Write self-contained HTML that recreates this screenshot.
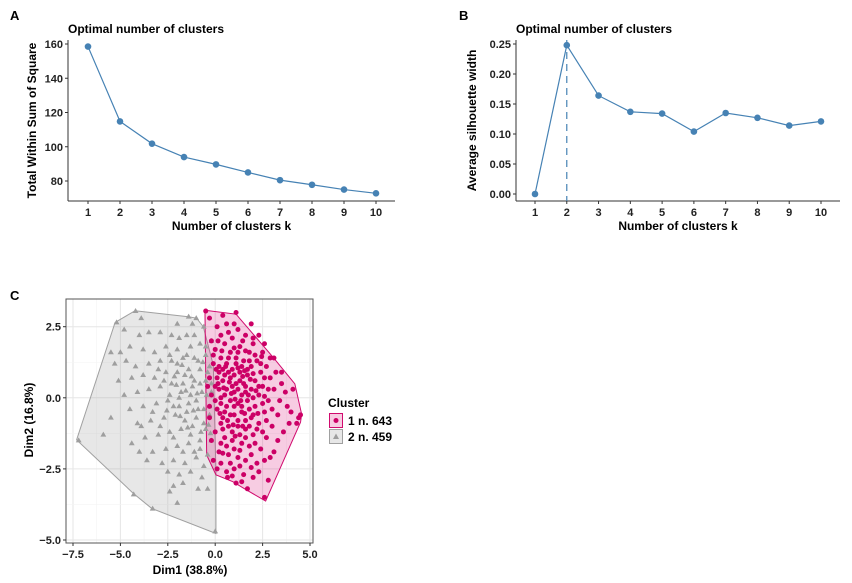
<!DOCTYPE html>
<html><head><meta charset="utf-8"><style>
body{margin:0;background:#fff}
svg{display:block;font-family:"Liberation Sans",Arial,sans-serif}
.tk{font-size:11px;font-weight:bold;fill:#222}
.ttl{font-size:12px;font-weight:bold;fill:#000}
.lab{font-size:12px;font-weight:bold;fill:#000}
</style></head><body>
<svg id="s" width="852" height="583" viewBox="0 0 852 583"></svg>
<script>
const ks=[1,2,3,4,5,6,7,8,9,10];
const wss=[158.5,114.8,101.8,94,89.7,85,80.5,77.8,75,72.8];
const wssTicks=[80,100,120,140,160];
const sil=[0,0.248,0.164,0.137,0.134,0.104,0.135,0.127,0.114,0.121];
const silTicks=[0,0.05,0.10,0.15,0.20,0.25];
const silTickLabels=["0.00","0.05","0.10","0.15","0.20","0.25"];
const optimalK=2;
const dimTicksX=[-7.5,-5,-2.5,0,2.5,5];
const dimTicksXLabels=["−7.5","−5.0","−2.5","0.0","2.5","5.0"];
const dimTicksY=[-5,-2.5,0,2.5];
const dimTicksYLabels=["−5.0","−2.5","0.0","2.5"];
const hull1=[[-0.54,3.08],[1.1,2.94],[3.1,1.39],[4.2,0.49],[4.56,-0.58],[4.5,-0.86],[2.66,-3.63],[1.65,-3.24],[0.93,-2.95],[0.04,-2.71],[-0.45,-2.01]];
const hull2=[[-4.23,3.06],[-1.42,2.85],[-0.98,2.8],[-0.63,2.5],[-0.1,1.15],[0.04,-2.6],[0.04,-4.77],[-3.35,-3.89],[-4.32,-3.36],[-7.31,-1.48],[-5.28,2.65]];
const pts1=[[-0.3,2.8],[0.1,2.5],[0.6,2.6],[1.2,2.4],[0.3,2.2],[0.9,2.1],[1.6,2.2],[2.0,1.9],[-0.2,2.0],[0.5,1.9],[1.3,1.8],[2.5,1.6],[2.9,1.4],[0.0,1.7],[0.8,1.6],[1.8,1.6],[2.2,1.3],[0.3,1.4],[1.1,1.4],[1.5,1.3],[2.7,1.1],[3.2,0.9],[-0.1,1.2],[0.6,1.2],[0.9,1.0],[1.9,1.1],[2.4,0.9],[0.2,0.9],[1.3,0.9],[1.7,0.8],[2.1,0.6],[2.9,0.7],[3.5,0.5],[-0.3,0.7],[0.4,0.6],[0.8,0.7],[1.1,0.5],[1.5,0.5],[2.5,0.4],[3.1,0.3],[0.0,0.4],[0.6,0.3],[1.0,0.2],[1.4,0.1],[1.9,0.3],[2.3,0.1],[2.8,-0.1],[3.8,-0.3],[-0.2,0.1],[0.3,0.0],[0.8,-0.1],[1.2,-0.2],[1.7,-0.1],[2.1,-0.3],[2.6,-0.5],[3.3,-0.6],[4.0,-0.5],[4.3,-0.9],[0.1,-0.4],[0.5,-0.5],[1.0,-0.6],[1.4,-0.5],[1.9,-0.7],[2.3,-0.9],[3.0,-1.0],[3.6,-1.2],[-0.3,-0.7],[0.3,-0.9],[0.7,-1.0],[1.2,-1.0],[1.6,-1.1],[2.0,-1.3],[2.7,-1.4],[0.0,-1.2],[0.5,-1.4],[0.9,-1.5],[1.4,-1.6],[1.8,-1.7],[2.4,-1.8],[3.1,-1.9],[0.2,-1.9],[0.7,-2.0],[1.2,-2.1],[1.6,-2.2],[2.2,-2.3],[2.9,-2.1],[0.1,-2.5],[0.6,-2.6],[1.0,-2.5],[1.5,-2.7],[2.3,-2.6],[2.8,-2.9],[1.1,-3.0],[1.7,-3.2],[2.6,-3.5],[0.4,1.0],[0.7,0.9],[1.0,0.8],[1.3,0.6],[1.6,0.4],[0.2,0.3],[0.5,0.1],[0.9,0.4],[1.2,0.3],[1.6,0.2],[2.0,0.0],[0.3,-0.2],[0.6,-0.3],[1.0,-0.3],[1.4,-0.3],[1.8,-0.4],[0.0,-0.1],[0.4,-0.7],[0.8,-0.6],[1.2,-0.8],[1.6,-0.8],[2.0,-0.6],[0.1,0.7],[0.5,0.8],[1.4,1.1],[1.8,1.3],[1.1,1.2],[0.7,1.4],[2.1,1.5],[0.2,1.1],[0.9,-1.2],[1.3,-1.3],[0.4,-1.1],[1.8,-1.0],[2.2,-1.1],[0.6,-1.7],[1.0,-1.8],[0.3,-1.6],[1.6,-1.4],[2.5,-1.2],[2.6,0.7],[2.3,0.4],[2.8,0.3],[3.4,-0.1],[3.0,-0.4],[2.5,-0.2],[3.7,0.2],[4.1,0.3],[4.4,-0.7],[3.9,-0.9],[2.0,2.1],[1.0,2.6],[0.4,2.9],[1.9,2.6],[2.3,2.2],[-0.1,1.5],[-0.2,-1.5],[-0.1,-2.2],[0.3,-2.3],[0.8,-2.3],[1.3,-2.4],[1.9,-2.0],[2.0,-2.8],[-0.4,0.4],[-0.3,-0.3],[0.05,1.0],[1.7,1.0],[2.4,1.2],[1.2,1.6],[1.45,0.75],[0.75,0.55],[1.05,-0.05],[1.35,-0.1],[0.45,0.35],[1.85,0.65],[2.25,-0.55],[0.95,-0.95],[1.55,-0.55],[0.25,-0.55],[1.1,3.0],[-0.5,3.05],[3.1,1.4],[4.5,-0.6],[0.65,-2.8],[0.15,2.0],[0.7,2.3],[1.45,2.0],[2.6,1.9],[0.35,1.65],[1.0,1.75],[1.6,1.65],[2.45,1.45],[0.55,1.1],[1.2,1.05],[1.55,0.95],[2.0,0.85],[0.15,0.5],[0.85,0.15],[1.75,0.1],[2.15,0.25],[2.6,0.05],[0.65,-0.8],[1.05,-1.35],[1.45,-1.0],[2.1,-1.6],[2.6,-2.2],[0.4,-1.95],[1.3,-1.85],[1.9,-2.45],[0.9,-2.75],[1.4,-2.95],[3.3,-1.5],[2.7,-0.8],[3.5,0.9]];
const pts2=[[-4.2,3.05],[-5.2,2.65],[-7.2,-1.5],[-4.3,-3.4],[-3.3,-3.9],[0.0,-4.7],[-1.4,2.85],[-1.0,2.8],[-0.6,2.5],[-5.0,1.6],[-5.5,1.6],[-4.8,2.4],[-4.0,2.2],[-3.5,2.3],[-2.9,2.3],[-2.3,2.2],[-1.9,2.1],[-1.5,2.2],[-4.5,1.8],[-3.8,1.7],[-3.2,1.6],[-2.6,1.8],[-2.0,1.7],[-1.3,1.8],[-0.8,1.9],[-5.3,1.2],[-4.2,1.1],[-3.5,1.2],[-2.9,1.3],[-2.3,1.3],[-1.7,1.4],[-1.1,1.4],[-0.5,1.5],[-5.1,0.6],[-4.4,0.7],[-3.8,0.8],[-3.2,0.7],[-2.6,0.9],[-2.0,0.9],[-1.4,1.0],[-0.8,1.0],[-0.3,1.1],[-4.8,0.1],[-4.1,0.2],[-3.5,0.3],[-2.9,0.4],[-2.3,0.5],[-1.7,0.5],[-1.1,0.6],[-0.5,0.6],[-4.5,-0.4],[-3.8,-0.3],[-3.1,-0.2],[-2.5,-0.1],[-1.9,0.0],[-1.3,0.1],[-0.7,0.2],[-0.2,0.2],[-5.5,-0.7],[-4.1,-0.9],[-3.4,-0.8],[-2.7,-0.7],[-2.1,-0.6],[-1.5,-0.5],[-0.9,-0.4],[-0.3,-0.3],[-5.9,-1.3],[-3.7,-1.4],[-3.0,-1.3],[-2.4,-1.2],[-1.8,-1.1],[-1.2,-1.0],[-0.6,-0.9],[-4.0,-1.9],[-3.3,-1.9],[-2.6,-1.8],[-2.0,-1.7],[-1.4,-1.6],[-0.8,-1.5],[-0.2,-1.5],[-2.8,-2.3],[-2.2,-2.2],[-1.6,-2.3],[-1.0,-2.1],[-0.4,-2.0],[-2.5,-2.6],[-1.9,-2.7],[-1.3,-2.6],[-0.7,-2.8],[-2.2,-3.1],[-1.7,-3.0],[-0.9,-3.2],[-0.4,-3.2],[-2.0,-3.7],[-2.4,-3.3],[-2.0,1.2],[-1.6,0.8],[-1.2,0.4],[-0.8,0.5],[-0.4,0.9],[-1.8,0.2],[-1.4,-0.2],[-1.0,-0.1],[-0.6,-0.4],[-2.2,-0.3],[-1.6,-0.8],[-1.0,-0.7],[-0.5,-1.1],[-2.4,0.1],[-2.7,0.6],[-1.9,-0.3],[-1.3,-1.3],[-0.8,-1.8],[-0.3,-0.6],[-0.2,0.5],[-0.9,1.3],[-1.5,1.5],[-0.5,1.8],[-0.2,2.0],[-1.1,2.2],[-2.4,1.5],[-3.0,1.0],[-3.3,-0.5],[-2.9,-1.0],[-2.2,-1.4],[-1.7,-1.9],[-1.1,-1.9],[-0.6,-2.4],[-3.6,-2.2],[-3.9,-1.0],[-4.4,-1.6],[-4.7,1.3],[-3.9,2.8],[-2.0,2.6],[-1.2,2.6],[-1.75,1.15],[-1.25,0.75],[-0.65,1.25],[-1.55,0.25],[-0.95,0.15],[-2.05,0.45],[-1.15,-0.45],[-0.35,-0.95],[-1.85,-0.65],[-0.75,-1.2],[-2.55,-0.45],[-1.45,-1.05],[-0.25,-1.25],[-2.15,0.75],[-0.45,0.1]];

const NS="http://www.w3.org/2000/svg",S=document.getElementById('s');
function mk(t,a,p){const e=document.createElementNS(NS,t);for(const k in a)e.setAttribute(k,a[k]);(p||S).appendChild(e);return e;}
function tx(x,y,s,cls,anchor,rot){const e=mk('text',{x:x,y:y,class:cls,'text-anchor':anchor||'middle'});if(rot)e.setAttribute('transform',`rotate(-90 ${x} ${y})`);e.textContent=s;return e;}

function elbow(o){
  const g=mk('g',{});
  
  
  const X=k=>o.x1+(k-1)*(o.x10-o.x1)/9;
  const Y=v=>o.yb-(v-o.vmin)*(o.yb-o.yt)/(o.vmax-o.vmin);
  let t=tx(o.lx,20,o.letter,'ttl','start',false);g.appendChild(t);t.setAttribute('style','font-size:13px');
  
  t=tx(o.ax,33,'Optimal number of clusters','ttl','start');g.appendChild(t);
  
  mk('line',{x1:o.ax,y1:40,x2:o.ax,y2:o.axY,stroke:'#333','stroke-width':1},g);
  mk('line',{x1:o.ax,y1:o.axY,x2:o.axEnd,y2:o.axY,stroke:'#333','stroke-width':1},g);
  o.ticks.forEach((v,i)=>{const y=Y(v);mk('line',{x1:o.ax-3,y1:y,x2:o.ax,y2:y,stroke:'#333'},g);
    const l=tx(o.ax-5,y+4,o.tlabels[i],'tk','end');g.appendChild(l);
    });
  ks.forEach(k=>{const x=X(k);mk('line',{x1:x,y1:o.axY,x2:x,y2:o.axY+3,stroke:'#333'},g);
    const l=tx(x,o.axY+15,String(k),'tk');g.appendChild(l);
    });
  t=tx((o.ax+o.axEnd)/2,o.axY+29,'Number of clusters k','lab');g.appendChild(t);
  
  t=tx(o.ylx,(40+o.axY)/2,o.ytitle,'lab','middle',true);g.appendChild(t);
  
  if(o.vline){const x=X(o.vline);const l=mk('line',{x1:x,y1:40,x2:x,y2:o.axY,stroke:'#4682b4','stroke-dasharray':'7,5','stroke-width':1.2},g);
    }
  const ln=mk('polyline',{points:o.vals.map((v,i)=>X(ks[i])+','+Y(v)).join(' '),fill:'none',stroke:'#4682b4','stroke-width':1.2},g);
  
  o.vals.forEach((v,i)=>{const c=mk('circle',{cx:X(ks[i]),cy:Y(v),r:3.3,fill:'#4682b4'},g);
    });
}
elbow({name:'elbow-chart',letter:'A',lx:10,ax:68,axEnd:395,axY:201,x1:88,x10:376,yb:181,yt:44,vmin:80,vmax:160,
  ticks:wssTicks,tlabels:wssTicks.map(String),vals:wss,ytitle:'Total Within Sum of Square',ylx:36});
elbow({name:'silhouette-chart',letter:'B',lx:459,ax:516,axEnd:840,axY:201,x1:535,x10:821,yb:194,yt:44,vmin:0,vmax:0.25,
  ticks:silTicks,tlabels:silTickLabels,vals:sil,ytitle:'Average silhouette width',ylx:476,vline:optimalK});

// Panel C
(function(){
  const g=mk('g',{});
  
  
  const L=66,R=313,T=299,B=543;
  const X=v=>215.2+v*18.96, Y=v=>397.8-v*28.44;
  let t=tx(10,300,'C','ttl','start');g.appendChild(t);t.setAttribute('style','font-size:13px');
  
  mk('rect',{x:L,y:T,width:R-L,height:B-T,fill:'#fff'},g);
  for(let v=-8.75;v<=5.1;v+=1.25){const x=X(v);if(x>L&&x<R)mk('line',{x1:x,y1:T,x2:x,y2:B,stroke:Math.abs(v/2.5-Math.round(v/2.5))<0.01?'#e6e6e6':'#f3f3f3','stroke-width':Math.abs(v/2.5-Math.round(v/2.5))<0.01?1:0.6},g);}
  for(let v=-5;v<=3.8;v+=1.25){const y=Y(v);if(y>T&&y<B)mk('line',{x1:L,y1:y,x2:R,y2:y,stroke:Math.abs(v/2.5-Math.round(v/2.5))<0.01?'#e6e6e6':'#f3f3f3','stroke-width':Math.abs(v/2.5-Math.round(v/2.5))<0.01?1:0.6},g);}
  let p=mk('polygon',{points:hull2.map(q=>X(q[0])+','+Y(q[1])).join(' '),fill:'rgba(160,160,160,0.25)',stroke:'#a0a0a0','stroke-width':1},g);
  
  p=mk('polygon',{points:hull1.map(q=>X(q[0])+','+Y(q[1])).join(' '),fill:'rgba(214,0,110,0.2)',stroke:'#d10a6e','stroke-width':1},g);
  
  pts2.forEach(q=>{const x=X(q[0]),y=Y(q[1]);const e=mk('polygon',{points:`${x},${y-3.1} ${x-2.9},${y+1.9} ${x+2.9},${y+1.9}`,fill:'#9e9e9e'},g);
    });
  pts1.forEach(q=>{const e=mk('circle',{cx:X(q[0]),cy:Y(q[1]),r:2.5,fill:'#cc0066'},g);
    });
  mk('rect',{x:L,y:T,width:R-L,height:B-T,fill:'none',stroke:'#555','stroke-width':1},g);
  dimTicksX.forEach((v,i)=>{const x=X(v);mk('line',{x1:x,y1:B,x2:x,y2:B+3,stroke:'#333'},g);
    const l=tx(x,B+15,dimTicksXLabels[i],'tk');g.appendChild(l);
    });
  dimTicksY.forEach((v,i)=>{const y=Y(v);mk('line',{x1:L-3,y1:y,x2:L,y2:y,stroke:'#333'},g);
    const l=tx(L-5,y+4,dimTicksYLabels[i],'tk','end');g.appendChild(l);
    });
  t=tx(190,574,'Dim1 (38.8%)','lab');g.appendChild(t);
  
  t=tx(33,420,'Dim2 (16.8%)','lab','middle',true);g.appendChild(t);
  
  const lg=mk('g',{},g);
  
  t=tx(328,407,'Cluster','lab','start');lg.appendChild(t);
  
  const e1=mk('g',{},lg);
  mk('rect',{x:329.5,y:413.5,width:13,height:14,fill:'rgba(214,0,110,0.2)',stroke:'#d10a6e'},e1);
  mk('circle',{cx:336,cy:420.5,r:2.5,fill:'#cc0066'},e1);
  e1.appendChild(tx(348,425,'1 n. 643','lab','start'));
  const e2=mk('g',{},lg);
  mk('rect',{x:329.5,y:429.5,width:13,height:14,fill:'rgba(160,160,160,0.25)',stroke:'#a0a0a0'},e2);
  mk('polygon',{points:'336,433.5 333,439 339,439',fill:'#9e9e9e'},e2);
  e2.appendChild(tx(348,441,'2 n. 459','lab','start'));
})();
</script>
</body></html>
